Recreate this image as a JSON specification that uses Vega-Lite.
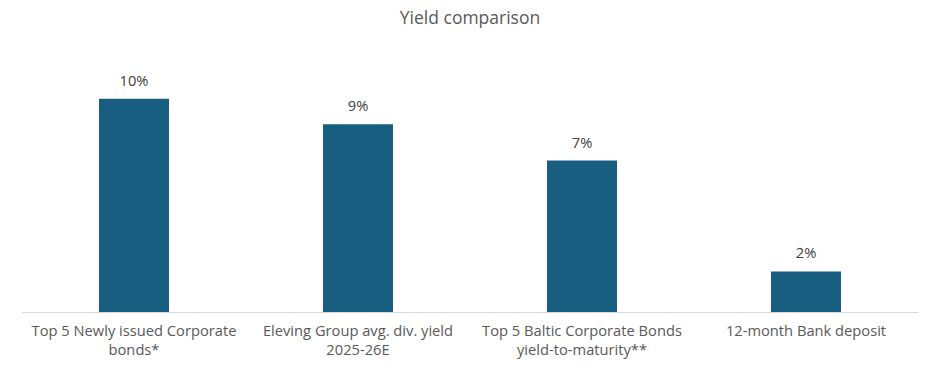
{
  "$schema": "https://vega.github.io/schema/vega-lite/v6.json",
  "autosize": "none",
  "width": 896,
  "height": 256,
  "padding": {"left": 22, "top": 56, "right": 20, "bottom": 67},
  "background": "white",
  "title": {
    "text": "Yield comparison",
    "anchor": "middle",
    "frame": "group",
    "fontSize": 17.5,
    "font": "Open Sans",
    "fontWeight": "normal",
    "color": "#595959",
    "baseline": "bottom",
    "offset": 11
  },
  "data": {
    "values": [
      {"category": "Top 5 Newly issued Corporate bonds*", "yield": 10.0, "label": "10%"},
      {"category": "Eleving Group avg. div. yield 2025-26E", "yield": 8.8, "label": "9%"},
      {"category": "Top 5 Baltic Corporate Bonds yield-to-maturity**", "yield": 7.1, "label": "7%"},
      {"category": "12-month Bank deposit", "yield": 1.9, "label": "2%"}
    ]
  },
  "encoding": {
    "x": {
      "field": "category",
      "type": "nominal",
      "sort": null,
      "scale": {"paddingInner": 0.6875, "paddingOuter": 0.34375},
      "axis": {
        "title": null,
        "labelAngle": 0,
        "ticks": false,
        "domainColor": "#d9d9d9",
        "domainWidth": 1,
        "labelFont": "Open Sans",
        "labelFontSize": 14.7,
        "labelColor": "#595959",
        "labelPadding": 11,
        "labelLineHeight": 19,
        "labelLimit": 0,
        "labelExpr": "datum.value == 'Top 5 Newly issued Corporate bonds*' ? ['Top 5 Newly issued Corporate', 'bonds*'] : datum.value == 'Eleving Group avg. div. yield 2025-26E' ? ['Eleving Group avg. div. yield', '2025-26E'] : datum.value == 'Top 5 Baltic Corporate Bonds yield-to-maturity**' ? ['Top 5 Baltic Corporate Bonds', 'yield-to-maturity**'] : datum.value"
      }
    },
    "y": {
      "field": "yield",
      "type": "quantitative",
      "scale": {"domain": [0, 12]},
      "axis": null
    }
  },
  "layer": [
    {"mark": {"type": "bar", "color": "#175e80"}},
    {
      "mark": {"type": "text", "baseline": "middle", "dy": -17, "fontSize": 14.7, "font": "Open Sans", "color": "#404040"},
      "encoding": {"text": {"field": "label"}}
    }
  ],
  "config": {"view": {"stroke": null}}
}
